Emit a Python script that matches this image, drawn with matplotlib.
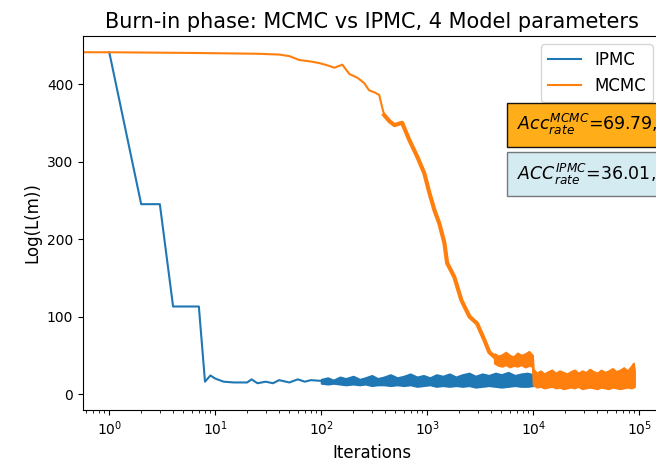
import numpy as np
import matplotlib
matplotlib.use("Agg")
import matplotlib.pyplot as plt

# IPMC: fast drop in the first iterations, then a noisy band
ipmc_iter = [1, 2, 3, 4, 7, 8, 9, 10, 12, 15, 20, 22, 25, 30, 35, 40, 50, 60, 70, 80, 100]
ipmc_logl = [441, 245, 245, 113, 113, 16, 24, 20, 16, 15, 15, 19, 14, 16, 14, 18, 15, 19, 16, 18, 17]
ipmc_band_iter = [100, 115, 130, 150, 170, 200, 230, 260, 300, 340, 390, 450, 520, 600, 690, 800,
                  920, 1060, 1220, 1400, 1620, 1860, 2150, 2480, 2850, 3300, 3800, 4400, 5000,
                  5800, 6700, 7700, 8800, 10000]
ipmc_band_lo = [14, 13, 14, 13, 12, 13, 12, 13, 11, 12, 12, 11, 12, 11, 12, 10,
                11, 12, 10, 11, 10, 11, 10, 11, 9, 10, 11, 10, 9,
                10, 11, 10, 10, 11]
ipmc_band_hi = [19, 21, 18, 22, 20, 23, 19, 21, 24, 20, 22, 25, 21, 23, 26, 22,
                24, 21, 25, 23, 26, 22, 25, 27, 23, 26, 24, 27, 25,
                28, 24, 26, 27, 25]

# MCMC: slow decay, plateau, then a noisy band after 10^4
mcmc_iter = [0, 1, 7, 26, 40, 50, 62, 80, 96, 115, 133, 158, 184, 220, 255, 282, 320, 352,
             372, 392, 440, 490, 579, 676, 806, 937, 1050, 1170, 1300, 1450, 1540, 1800,
             2100, 2500, 2950, 3450, 3850, 4300]
mcmc_logl = [441, 441, 440, 439, 438, 436, 431, 429, 427, 424, 421, 425, 413, 408, 401, 392, 389, 386,
             372, 360, 352, 347, 350, 328, 306, 285, 259, 237, 220, 195, 169, 151,
             121, 100, 91, 70, 54, 48]
mcmc_plateau_iter = [4300, 4700, 5100, 5500, 6000, 6500, 7100, 7700, 8400, 9100, 9800]
mcmc_plateau_lo = [40, 37, 36, 38, 35, 37, 36, 38, 35, 37, 36]
mcmc_plateau_hi = [52, 49, 51, 54, 50, 48, 53, 50, 52, 55, 50]
mcmc_tail_iter = [9800, 10000, 10800, 11700, 12700, 13800, 15000, 16300, 17700, 19200, 20800,
                  22600, 24500, 26600, 28900, 31400, 34100, 37000, 40200, 43600, 47300,
                  51400, 55800, 60600, 65800, 71400, 77500, 84100, 88000, 90000]
mcmc_tail_lo = [36, 12, 9, 10, 8, 9, 10, 8, 9, 7, 8,
                9, 8, 10, 7, 8, 9, 8, 7, 9, 8,
                7, 9, 8, 7, 8, 9, 8, 9, 10]
mcmc_tail_hi = [50, 32, 27, 30, 26, 29, 31, 27, 30, 28, 26,
                29, 31, 27, 30, 28, 32, 29, 27, 31, 28,
                30, 33, 29, 31, 34, 30, 36, 40, 30]

acc_mcmc = 69.79
acc_ipmc = 36.01

fig = plt.figure(figsize=(6.56, 4.72), dpi=100)
ax = fig.add_axes([0.1265, 0.1314, 0.881, 0.7924])

ax.plot(ipmc_iter, ipmc_logl, color="C0", lw=1.5, label="IPMC")
ax.fill_between(ipmc_band_iter, ipmc_band_lo, ipmc_band_hi, color="C0", lw=1.5)

ax.plot(mcmc_iter, mcmc_logl, color="C1", lw=1.5, label="MCMC")
mi = np.array(mcmc_iter)
ax.plot(mi[mi >= 392], np.array(mcmc_logl)[mi >= 392], color="C1", lw=3)
ax.fill_between(mcmc_plateau_iter, mcmc_plateau_lo, mcmc_plateau_hi, color="C1", lw=1.5)
ax.fill_between(mcmc_tail_iter, mcmc_tail_lo, mcmc_tail_hi, color="C1", lw=1.5)

ax.set_xscale("log")
ax.set_xlim(0.565, 1.6e5)
ax.set_ylim(-20.5, 462)
ax.set_title("Burn-in phase: MCMC vs IPMC, 4 Model parameters", fontsize=15)
ax.set_xlabel("Iterations", fontsize=12)
ax.set_ylabel("Log(L(m))", fontsize=12)
ax.legend(loc="upper right", fontsize=12)

fig.text(0.788, 0.762, r"$Acc^{MCMC}_{rate}$=%.2f,      " % acc_mcmc, fontsize=12.5, va="top",
         bbox=dict(boxstyle="square,pad=0.55", facecolor="orange", edgecolor="black", alpha=0.9))
fig.text(0.788, 0.658, r"$ACC^{IPMC}_{rate}$=%.2f,      " % acc_ipmc, fontsize=12.5, va="top",
         bbox=dict(boxstyle="square,pad=0.55", facecolor="lightblue", alpha=0.5))

fig.savefig("out.png", dpi=100)
